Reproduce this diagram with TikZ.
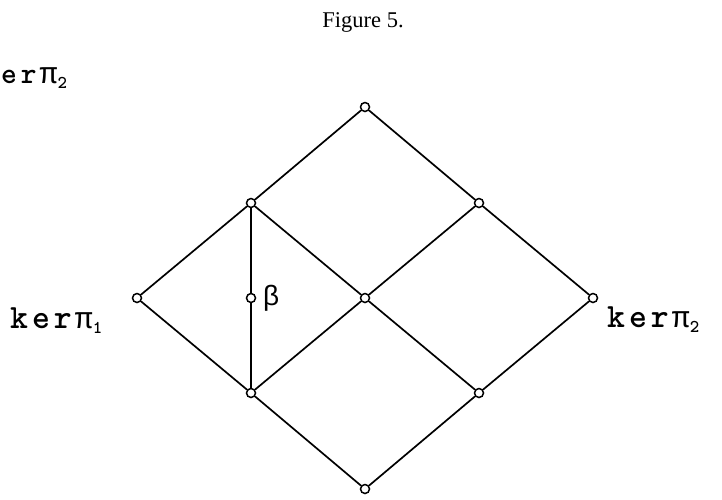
\documentclass[tikz,border=0pt]{standalone}
\usepackage{fontspec}
\setmainfont{Liberation Serif}
\newfontfamily\greekf{Liberation Mono}
\newfontfamily\sansf{Liberation Sans}
\newcommand{\sub}[1]{\raisebox{-5pt}{\fontsize{18}{18}\selectfont #1}}
\newcommand{\pp}{{\greekf\mdseries\fontsize{30}{32}\selectfont π}}
\begin{document}
\begin{tikzpicture}[x=1pt,y=-1pt,
  vert/.style={circle,draw,fill=white,inner sep=0pt,minimum size=9pt,line width=1.5pt},
  edge/.style={line width=1.7pt},
  lab/.style={anchor=base west,inner sep=0pt}]
\useasboundingbox (0,0) rectangle (722,499);
\node[anchor=base,inner sep=0pt,font=\fontsize{22.5}{26}\selectfont] (title) at (363,27) {Figure 5.};
\node[vert] (t) at (365,107) {};
\node[vert] (ul) at (251,203) {};
\node[vert] (ur) at (479,203) {};
\node[vert] (l) at (137,298) {};
\node[vert] (c) at (365,298) {};
\node[vert] (r) at (593,298) {};
\node[vert] (ll) at (251,393) {};
\node[vert] (lr) at (479,393) {};
\node[vert] (b) at (365,489) {};
\node[vert] (beta) at (251,298) {};
\draw[edge] (t) -- (ul);
\draw[edge] (t) -- (ur);
\draw[edge] (ul) -- (l);
\draw[edge] (ul) -- (c);
\draw[edge] (ur) -- (c);
\draw[edge] (ur) -- (r);
\draw[edge] (l) -- (ll);
\draw[edge] (c) -- (ll);
\draw[edge] (c) -- (lr);
\draw[edge] (r) -- (lr);
\draw[edge] (ll) -- (b);
\draw[edge] (lr) -- (b);
\draw[edge] (ul) -- (beta);
\draw[edge] (beta) -- (ll);
\node[anchor=west,inner sep=0pt,font=\sansf\fontsize{28}{32}\selectfont] (betal) at (263,298) {β};
\node[lab,font=\ttfamily\bfseries\fontsize{30}{32}\selectfont] (k2top) at (1,83) {e\hspace{4pt}r\hspace{3pt}\pp\sub{2}};
\node[lab,font=\ttfamily\bfseries\fontsize{34}{36}\selectfont] (k1) at (10,328) {k\hspace{4pt}e\hspace{4pt}r\hspace{3pt}\pp\sub{1}};
\node[lab,font=\ttfamily\bfseries\fontsize{34}{36}\selectfont] (k2) at (607,327) {k\hspace{4pt}e\hspace{4pt}r\hspace{3pt}\pp\sub{2}};
\end{tikzpicture}
\end{document}
